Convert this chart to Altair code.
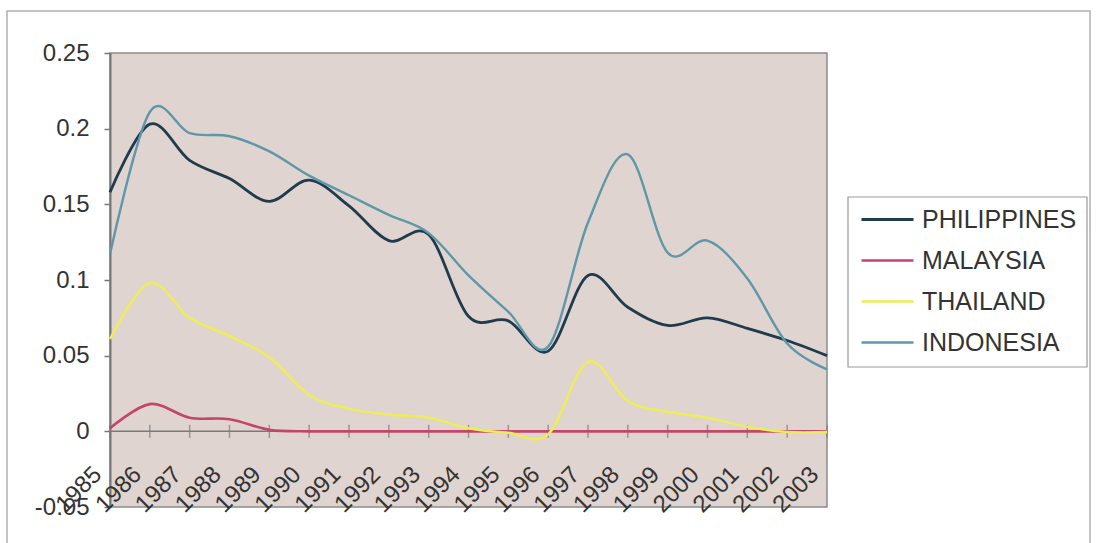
import altair as alt
import pandas as pd

# Annual values, 1985-2003
years = list(range(1985, 2004))
countries = ["PHILIPPINES", "MALAYSIA", "THAILAND", "INDONESIA"]

philippines = [0.158, 0.203, 0.179, 0.167, 0.152, 0.166, 0.149, 0.126, 0.130, 0.076,
               0.073, 0.053, 0.103, 0.082, 0.070, 0.075, 0.068, 0.060, 0.050]
malaysia = [0.002, 0.018, 0.009, 0.008, 0.001, 0.0, 0.0, 0.0, 0.0, 0.0,
            0.0, 0.0, 0.0, 0.0, 0.0, 0.0, 0.0, 0.0, 0.0]
thailand = [0.061, 0.098, 0.075, 0.063, 0.049, 0.024, 0.015, 0.011, 0.009, 0.002,
            -0.001, -0.002, 0.046, 0.020, 0.013, 0.009, 0.003, -0.0005, -0.0005]
indonesia = [0.117, 0.211, 0.197, 0.195, 0.185, 0.169, 0.156, 0.143, 0.131, 0.103,
             0.079, 0.056, 0.138, 0.183, 0.118, 0.126, 0.101, 0.058, 0.041]

y_ticks = [-0.05, 0, 0.05, 0.1, 0.15, 0.2, 0.25]

series_colors = ["#1f3b4d", "#c2466b", "#eded58", "#5e97a8"]
series_widths = [2.8, 2.4, 5.0, 1.8]

FONT = "Liberation Sans"
TEXT = "#333333"

rows = []
for name, vals in zip(countries, [philippines, malaysia, thailand, indonesia]):
    for yr, v in zip(years, vals):
        rows.append({"Year": yr, "Value": v, "Country": name})
df = pd.DataFrame(rows)

zero_df = pd.DataFrame({"Year": years, "Value": [0] * len(years)})

x_scale = alt.Scale(domain=[years[0], years[-1]], nice=False, zero=False)
y_scale = alt.Scale(domain=[-0.05, 0.25], nice=False, zero=False)

legend = alt.Legend(
    title=None, orient="none", legendX=750, legendY=139,
    symbolType="stroke", symbolSize=2704,
    labelFont=FONT, labelFontSize=25, labelColor=TEXT, labelOffset=7,
    rowPadding=-10, padding=0,
)

# outer frame around the whole chart
frame = alt.Chart(pd.DataFrame({"k": [0]})).mark_rect(
    fill=None, stroke="#b0b0b0", strokeWidth=1.5
).encode(
    x=alt.value(-103), x2=alt.value(980), y=alt.value(-42), y2=alt.value(520)
)

# box behind the legend entries
legend_box = alt.Chart(pd.DataFrame({"k": [0]})).mark_rect(
    fill="white", stroke="#9a9a9a", strokeWidth=1.2
).encode(
    x=alt.value(738), x2=alt.value(977), y=alt.value(144), y2=alt.value(314)
)

zero_line = alt.Chart(zero_df).mark_rule(color="#7a7a7a", strokeWidth=1.5).encode(
    x=alt.X("min(Year):Q", scale=x_scale, axis=None),
    x2="max(Year):Q",
    y=alt.Y("min(Value):Q", scale=y_scale),
)

zero_ticks = alt.Chart(zero_df).mark_tick(
    orient="vertical", size=13, thickness=1.5, color="#7a7a7a"
).encode(
    x=alt.X("Year:Q", scale=x_scale, axis=None),
    y=alt.Y("Value:Q", scale=y_scale),
)

# rotated year labels along the bottom of the plot
year_labels = alt.Chart(zero_df).mark_text(
    angle=315, align="right", baseline="middle", xOffset=-12,
    font=FONT, fontSize=24, color=TEXT,
).encode(
    x=alt.X("Year:Q", scale=x_scale, axis=None),
    y=alt.value(418),
    text=alt.Text("Year:Q", format="d"),
)

lines = alt.Chart(df).mark_line(interpolate="cardinal").encode(
    x=alt.X("Year:Q", scale=x_scale, axis=None),
    y=alt.Y(
        "Value:Q", scale=y_scale,
        axis=alt.Axis(
            values=y_ticks, title=None, grid=False,
            labelExpr="datum.value < 0 ? '-' + format(-datum.value, '.2~f') : format(datum.value, '.2~f')",
            labelFont=FONT, labelFontSize=24, labelColor=TEXT, labelPadding=15,
            tickSize=6, tickColor="#777777", tickWidth=1.5,
            domainColor="#777777", domainWidth=2,
        ),
    ),
    color=alt.Color("Country:N", scale=alt.Scale(domain=countries, range=series_colors), legend=legend),
    strokeWidth=alt.StrokeWidth("Country:N", scale=alt.Scale(domain=countries, range=series_widths), legend=legend),
    detail="Country:N",
)

chart = alt.layer(frame, legend_box, zero_line, zero_ticks, year_labels, lines).properties(
    width=717, height=454,
    padding={"left": 110, "top": 53, "right": 269, "bottom": 36},
    autosize=alt.AutoSizeParams(type="none"),
).configure(background="white", font=FONT).configure_view(
    fill="#dfd4d0", stroke="#8c8c8c", strokeWidth=1.5
)

chart.save("out.html", embed_options={"renderer": "svg", "actions": False})
